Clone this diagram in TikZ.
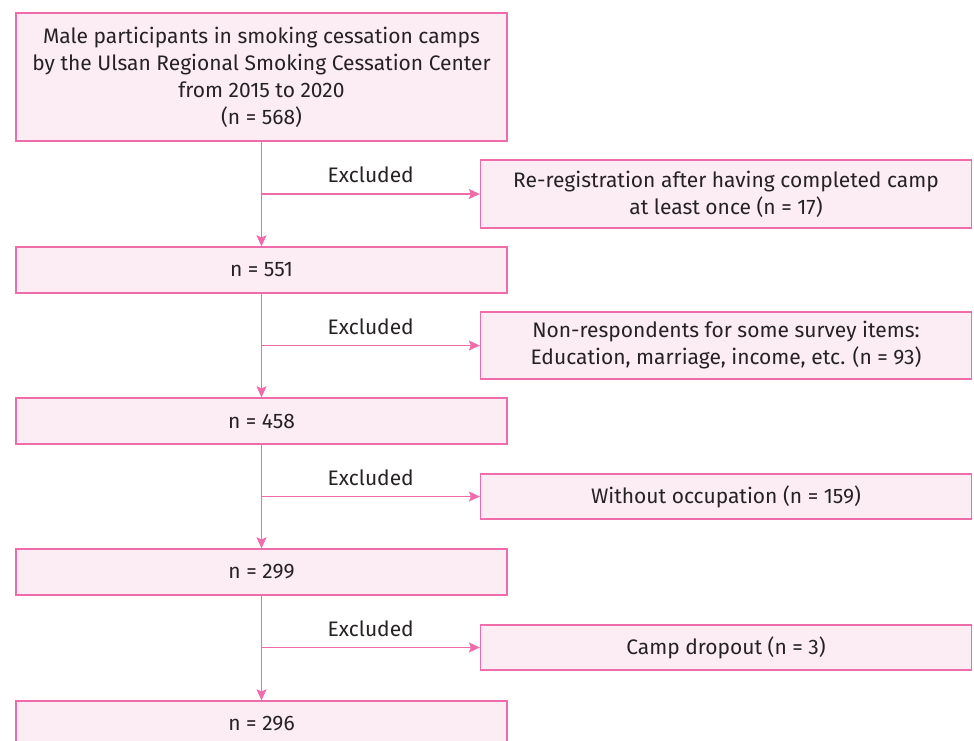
\documentclass[tikz,border=0pt]{standalone}
\usepackage{fontspec}
\setmainfont{Fira Sans}
\usepackage{tikz}
\usetikzlibrary{arrows.meta, positioning}
\definecolor{flowpink}{RGB}{238,108,170}
\definecolor{flowfill}{RGB}{252,237,245}
\definecolor{flowtext}{RGB}{38,34,36}
\tikzset{
  flowbox/.style={rectangle, draw=flowpink, line width=1.3pt, fill=flowfill, text=flowtext,
    minimum width=491pt, align=center, inner sep=0pt, font=\fontsize{21}{27}\selectfont},
  flowarrow/.style={draw=flowpink, line width=1.3pt, -{Stealth[length=11pt, width=10pt, inset=2pt]}},
  exclabel/.style={text=flowtext, font=\fontsize{21}{27}\selectfont, above=7pt, midway},
}
\begin{document}
\begin{tikzpicture}[x=1pt, y=1pt]
\useasboundingbox (0,0) rectangle (974,-740);
%main column
\node[flowbox, minimum height=128pt] (total) at (261.5,-77) {Male participants in smoking cessation camps\\by the Ulsan Regional Smoking Cessation Center\\from 2015 to 2020\\(n = 568)};
\node[flowbox, minimum height=46pt] (n551) at (261.5,-270) {n = 551};
\node[flowbox, minimum height=46pt] (n458) at (261.5,-421) {n = 458};
\node[flowbox, minimum height=46pt] (n299) at (261.5,-572) {n = 299};
\node[flowbox, minimum height=46pt] (n296) at (261.5,-724) {n = 296};
%excluded column
\node[flowbox, minimum height=68pt] (rereg) at (726,-194) {Re-registration after having completed camp\\at least once (n = 17)};
\node[flowbox, minimum height=67pt] (nonresp) at (726,-345.5) {Non-respondents for some survey items:\\Education, marriage, income, etc. (n = 93)};
\node[flowbox, minimum height=45pt] (noocc) at (726,-496.5) {Without occupation (n = 159)};
\node[flowbox, minimum height=45pt] (dropout) at (726,-647.5) {Camp dropout (n = 3)};
% links down
\draw[flowarrow] (total.south) -- (n551.north);
\draw[flowarrow] (n551.south) -- (n458.north);
\draw[flowarrow] (n458.south) -- (n299.north);
\draw[flowarrow] (n299.south) -- (n296.north);
% links right
\draw[flowarrow] (total.south |- rereg.west) -- node[exclabel] {Excluded} (rereg.west);
\draw[flowarrow] (n551.south |- nonresp.west) -- node[exclabel] {Excluded} (nonresp.west);
\draw[flowarrow] (n458.south |- noocc.west) -- node[exclabel] {Excluded} (noocc.west);
\draw[flowarrow] (n299.south |- dropout.west) -- node[exclabel] {Excluded} (dropout.west);
\end{tikzpicture}
\end{document}
